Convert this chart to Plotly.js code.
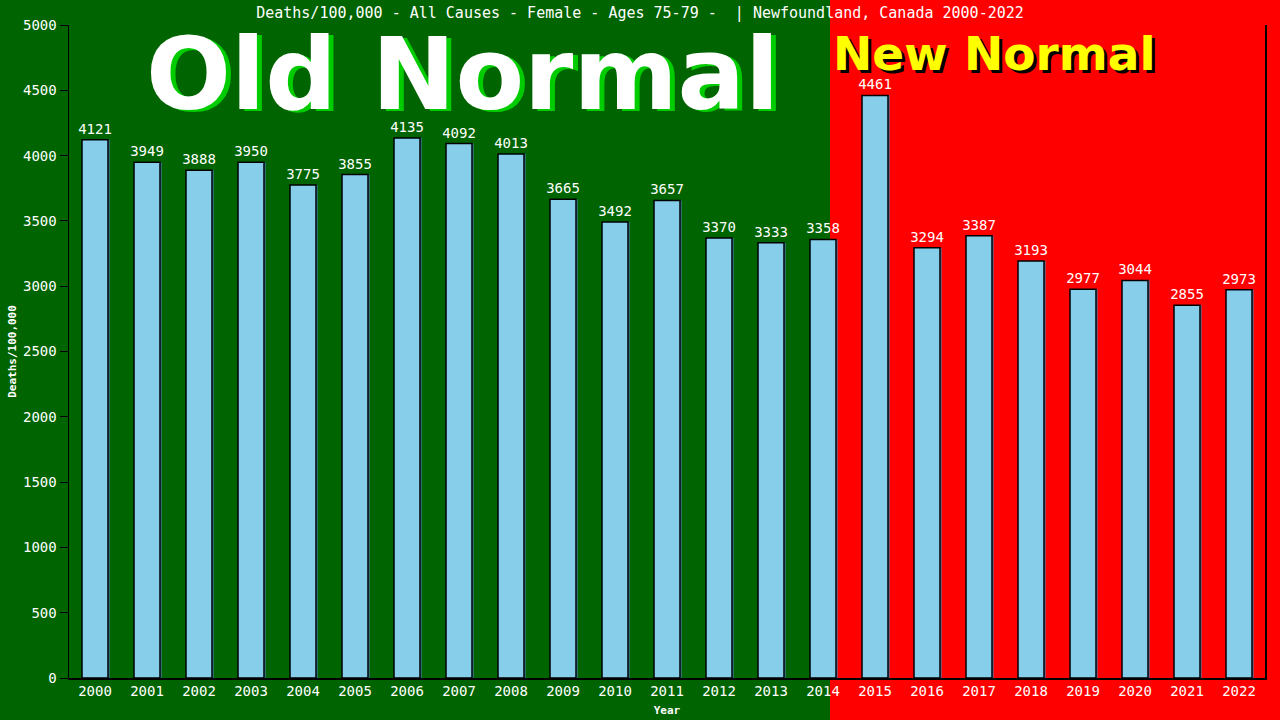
<!DOCTYPE html>
<html>
<head>
<meta charset="utf-8">
<script src="https://cdn.plot.ly/plotly-3.0.1.min.js"></script>
<style>html,body{margin:0;padding:0;background:#006400;}#chart{width:1280px;height:720px;}</style>
</head>
<body>
<div id="chart"></div>
<script>
const years = ["2000","2001","2002","2003","2004","2005","2006","2007","2008","2009","2010","2011","2012","2013","2014","2015","2016","2017","2018","2019","2020","2021","2022"];
const deathsPer100k = [4121,3949,3888,3950,3775,3855,4135,4092,4013,3665,3492,3657,3370,3333,3358,4461,3294,3387,3193,2977,3044,2855,2973];
const yTicks = [0,500,1000,1500,2000,2500,3000,3500,4000,4500,5000];
const chartTitle = "Deaths/100,000 - All Causes - Female - Ages 75-79 -  | Newfoundland, Canada 2000-2022";

const mono = "DejaVu Sans Mono";
const L = 69, R = 15, T = 25, B = 42, W = 1280, H = 720;
const pw = W - L - R, ph = H - T - B;
const px = v => (v - L) / pw;
const py = v => (H - B - v) / ph;

const shadow = {
  type: 'bar', x: years, y: deathsPer100k, width: 0.5, offset: -0.22,
  marker: {color: '#4682b4', line: {width: 0}}, hoverinfo: 'skip', showlegend: false
};
const bars = {
  type: 'bar', x: years, y: deathsPer100k, width: 0.5, offset: -0.25,
  marker: {color: '#87ceeb', line: {color: '#000000', width: 1.5}},
  text: deathsPer100k.map(String), textposition: 'outside', cliponaxis: false, constraintext: 'none',
  textfont: {family: mono, size: 14, color: '#ffffff'},
  showlegend: false
};

const annos = [
  {text: '<b>Old Normal</b>', xref: 'paper', yref: 'paper', x: px(467), y: py(77), showarrow: false,
   font: {family: 'DejaVu Sans', size: 100, color: '#00cc00'}, xanchor: 'center', yanchor: 'middle'},
  {text: '<b>Old Normal</b>', xref: 'paper', yref: 'paper', x: px(462), y: py(74), showarrow: false,
   font: {family: 'DejaVu Sans', size: 100, color: '#ffffff'}, xanchor: 'center', yanchor: 'middle'},
  {text: '<b>New Normal</b>', xref: 'paper', yref: 'paper', x: px(997), y: py(56), showarrow: false,
   font: {family: 'DejaVu Sans', size: 47, color: '#000000'}, xanchor: 'center', yanchor: 'middle'},
  {text: '<b>New Normal</b>', xref: 'paper', yref: 'paper', x: px(994), y: py(53), showarrow: false,
   font: {family: 'DejaVu Sans', size: 47, color: '#ffff00'}, xanchor: 'center', yanchor: 'middle'}
];

const layout = {
  width: W, height: H,
  margin: {l: L, r: R, t: T, b: B, pad: 0},
  paper_bgcolor: '#006400', plot_bgcolor: 'rgba(0,0,0,0)',
  barmode: 'overlay', bargap: 0.5,
  title: {text: chartTitle, x: 0.5, xref: 'container', xanchor: 'center', y: 1 - 13/720, yref: 'container', yanchor: 'middle',
          font: {family: mono, size: 15, color: '#ffffff'}},
  xaxis: {type: 'category', range: [-0.5, 22.5], showgrid: false, zeroline: false,
          showline: true, linecolor: '#000000', linewidth: 1.5, ticks: '',
          tickfont: {family: mono, size: 14, color: '#ffffff'},
          title: {text: '<b>Year</b>', font: {family: mono, size: 11, color: '#ffffff'}, standoff: 8}},
  yaxis: {range: [0, 5000], tickvals: yTicks, showgrid: false, zeroline: false,
          showline: true, linecolor: '#000000', linewidth: 1.5, mirror: true,
          ticks: 'outside', ticklen: 8, tickcolor: '#000000',
          tickfont: {family: mono, size: 14, color: '#ffffff'},
          title: {text: '<b>Deaths/100,000</b>', font: {family: mono, size: 11, color: '#ffffff'}, standoff: 4}},
  shapes: [{type: 'rect', xref: 'paper', yref: 'paper', x0: px(830), x1: px(1280), y0: py(720), y1: py(0),
            fillcolor: '#ff0000', line: {width: 0}, layer: 'below'}],
  annotations: annos
};

Plotly.newPlot('chart', [shadow, bars], layout, {displayModeBar: false, staticPlot: true});
</script>
</body>
</html>
